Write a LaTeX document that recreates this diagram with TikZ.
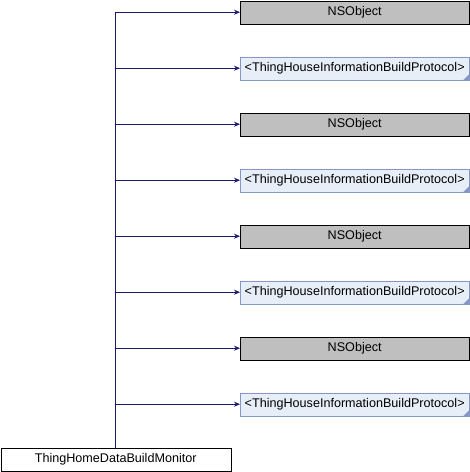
\documentclass[tikz,border=0pt]{standalone}
\usepackage{fontspec}
\setmainfont{Liberation Sans}
\usetikzlibrary{arrows.meta}
\definecolor{edgeblue}{HTML}{191970}
\definecolor{protofill}{HTML}{E8EEF7}
\definecolor{protoline}{HTML}{8498C8}
\definecolor{greyfill}{HTML}{BFBFBF}
\tikzset{
  base/.style={minimum width=229pt, minimum height=23pt, inner sep=0pt, anchor=north west, font=\fontsize{12.6pt}{14pt}\selectfont},
  objbox/.style={base, draw=black, fill=greyfill},
  protobox/.style={base, draw=protoline, fill=protofill},
  mainbox/.style={draw=black, fill=white, minimum width=230pt, minimum height=23pt, inner sep=0pt, anchor=north west, font=\fontsize{12.6pt}{14pt}\selectfont},
  link/.style={draw=edgeblue, line width=0.8pt, -{Stealth[length=6pt,width=5pt]}}
}
\begin{document}
\begin{tikzpicture}[x=1pt,y=-1pt]
\useasboundingbox (0,0) rectangle (470,472);
\node[mainbox] (m) at (0.5,448) {ThingHomeDataBuildMonitor};
\coordinate (trunk) at (115,448);
\foreach \i in {0,...,3}{
  \pgfmathsetmacro{\ya}{0.5+112*\i}
  \pgfmathsetmacro{\yb}{56.5+112*\i}
  \node[objbox] (o\i) at (240,\ya) {NSObject};
  \node[protobox] (p\i) at (240,\yb) {<ThingHouseInformationBuildProtocol>};
  \fill[protoline] (p\i.south east) -- ++(-6,0) -- ++(6,-6) -- cycle;
}
\draw[edgeblue, line width=0.8pt] (m.north -| trunk) -- (trunk |- o0.west);
\foreach \i in {0,...,3}{
  \draw[link] (trunk |- o\i.west) -- (o\i.west);
  \draw[link] (trunk |- p\i.west) -- (p\i.west);
}
\end{tikzpicture}
\end{document}
